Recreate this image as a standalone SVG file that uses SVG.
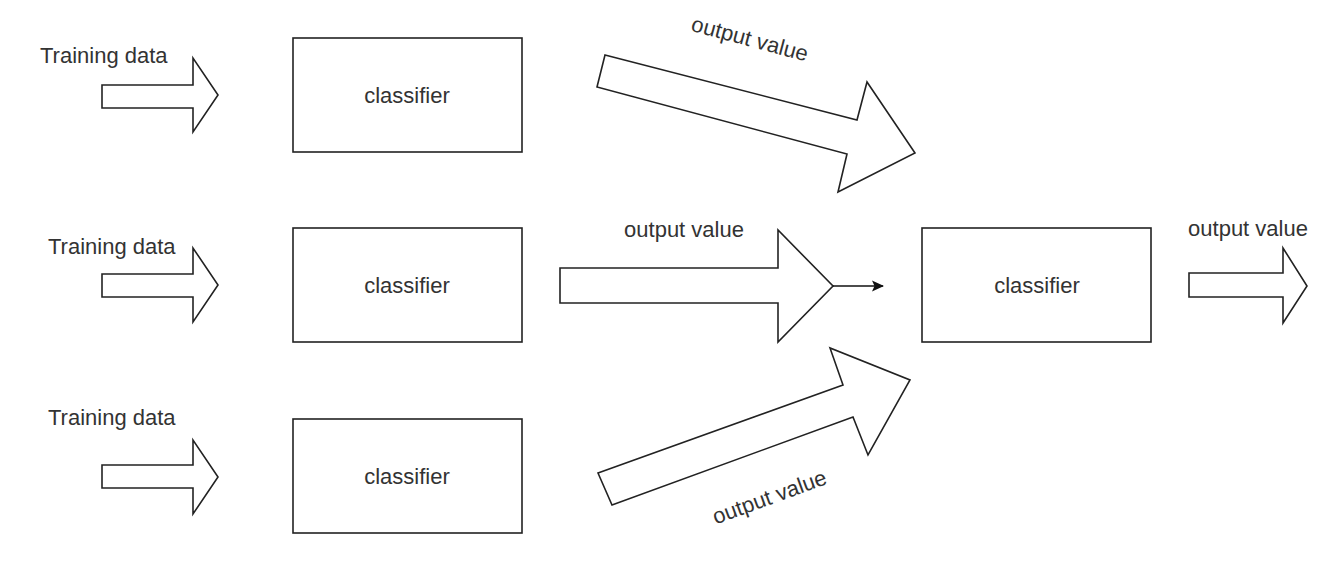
<svg xmlns="http://www.w3.org/2000/svg" width="1338" height="576" viewBox="0 0 1338 576">
<defs>
<style>
.box{fill:#fff;stroke:#222;stroke-width:1.6}
.arr{fill:#fff;stroke:#222;stroke-width:1.6;stroke-linejoin:miter}
.t{font-family:"Liberation Sans",Arial,sans-serif;font-size:22px;fill:#333}
.c{text-anchor:middle}
</style>
<marker id="ah" markerWidth="12" markerHeight="12" refX="11" refY="6" orient="auto" markerUnits="userSpaceOnUse">
<path d="M0,0.5 L12,6 L0,11.5 L2.5,6 Z" fill="#111"/>
</marker>
</defs>
<rect width="1338" height="576" fill="#fff"/>
<g id="input1">
<text class="t" x="40" y="63">Training data</text>
<polygon class="arr" points="102,85 193,85 193,58 218,95 193,132 193,108 102,108"/>
</g>
<g id="input2">
<text class="t" x="48" y="254">Training data</text>
<polygon class="arr" points="102,274 193,274 193,248 218,285 193,322 193,297 102,297"/>
</g>
<g id="input3">
<text class="t" x="48" y="425">Training data</text>
<polygon class="arr" points="102,465 193,465 193,440 218,477 193,514 193,488 102,488"/>
</g>
<g id="classifier1">
<rect class="box" x="293" y="38" width="229" height="114"/>
<text class="t c" x="407" y="103">classifier</text>
</g>
<g id="classifier2">
<rect class="box" x="293" y="228" width="229" height="114"/>
<text class="t c" x="407" y="293">classifier</text>
</g>
<g id="classifier3">
<rect class="box" x="293" y="419" width="229" height="114"/>
<text class="t c" x="407" y="484">classifier</text>
</g>
<g id="classifier-final">
<rect class="box" x="922" y="228" width="229" height="114"/>
<text class="t c" x="1037" y="293">classifier</text>
</g>
<g id="connectors">
<g id="out1">
<polygon class="arr" points="605,55 857,120 867,82 915,153 838,192 847,154 597,87"/>
<text class="t c" transform="translate(748,46) rotate(15)">output value</text>
</g>
<g id="out2">
<polygon class="arr" points="560,268 778,268 778,230 833,286 778,342 778,303 560,303"/>
<line x1="833" y1="286" x2="883" y2="286" stroke="#111" stroke-width="1.6" marker-end="url(#ah)"/>
<text class="t c" x="684" y="237">output value</text>
</g>
<g id="out3">
<polygon class="arr" points="598,473 843,385 830,348 910,380 868,455 853,417 612,505"/>
<text class="t c" transform="translate(772,504) rotate(-20)">output value</text>
</g>
<g id="out-final">
<polygon class="arr" points="1189,273 1283,273 1283,248 1307,286 1283,323 1283,297 1189,297"/>
<text class="t c" x="1248" y="236">output value</text>
</g>
</g>
</svg>
